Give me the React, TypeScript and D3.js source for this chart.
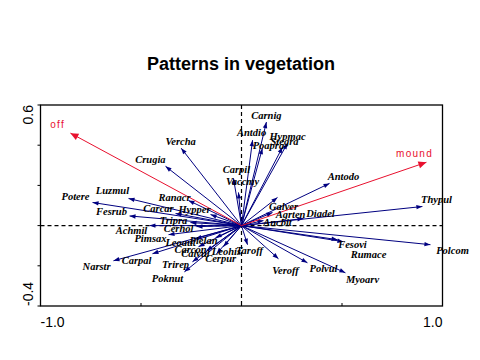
import React from "react";
import * as d3 from "d3";

// Species scores (biplot arrows)
const species = ["Vercha","Crugia","Luzmul","Potere","Fesrub","Ranacr","Carcar","Hypper","Tripra","Cerhol","Achmil","Pimsax","Narstr","Carpal","Leoaut","Plelan","Carcon","Calvul","Leohis","Cerpur","Trirep","Poknut","Taroff","Veroff","Polvul","Myoarv","Fesovi","Rumace","Polcom","Thypul","Diadel","Galver","Agrten","Ancbit","Antodo","Carpil","Vaccmy","Carnig","Antdio","Poapra","Hypmac","Stegra"];
const axis1 = [-0.30,-0.378,-0.562,-0.741,-0.557,-0.264,-0.328,-0.154,-0.254,-0.224,-0.458,-0.363,-0.637,-0.443,-0.229,-0.129,-0.214,-0.174,-0.09,-0.124,-0.244,-0.284,0.03,0.184,0.328,0.517,0.478,0.507,0.94,0.90,0.308,0.179,0.154,0.109,0.438,-0.04,-0.015,0.124,0.055,0.104,0.229,0.204];
const axis2 = [0.385,0.295,0.135,0.115,0.048,0.125,0.06,0.055,0.015,-0.005,0.0,-0.045,-0.175,-0.14,-0.065,-0.06,-0.105,-0.125,-0.105,-0.14,-0.18,-0.23,-0.095,-0.165,-0.185,-0.235,-0.07,-0.08,-0.095,0.095,0.035,0.14,0.065,0.025,0.21,0.235,0.165,0.515,0.425,0.385,0.41,0.39];
// Label anchor positions in data units
const labelX = [-0.303,-0.453,-0.642,-0.826,-0.647,-0.333,-0.413,-0.234,-0.338,-0.313,-0.547,-0.453,-0.721,-0.522,-0.303,-0.189,-0.254,-0.229,-0.075,-0.104,-0.328,-0.368,0.04,0.219,0.408,0.602,0.552,0.632,1.05,0.97,0.393,0.209,0.244,0.179,0.507,-0.025,0.005,0.124,0.05,0.134,0.229,0.214];
const labelY = [0.42,0.33,0.175,0.145,0.07,0.14,0.085,0.08,0.025,-0.015,-0.025,-0.065,-0.205,-0.175,-0.085,-0.075,-0.12,-0.14,-0.13,-0.165,-0.195,-0.265,-0.125,-0.225,-0.215,-0.27,-0.095,-0.145,-0.125,0.13,0.06,0.095,0.055,0.015,0.245,0.28,0.22,0.55,0.465,0.40,0.445,0.42];

// Environmental variables
const envNames = ["off","mound"];
const envX = [-0.851, 0.92];
const envY = [0.46, 0.315];
const envLabelX = [-0.915, 0.861];
const envLabelY = [0.505, 0.36];

const xTicks = [-1, -0.5, 0, 0.5, 1];
const yTicks = [-0.4, -0.2, 0, 0.2, 0.4, 0.6];

const W = 480, H = 360;

function head(x0: number, y0: number, x1: number, y1: number, len: number, hw: number) {
  const dx = x1 - x0, dy = y1 - y0;
  const L = Math.hypot(dx, dy) || 1;
  const ux = dx / L, uy = dy / L;
  const bx = x1 - ux * len, by = y1 - uy * len;
  return `${x1},${y1} ${bx - uy * hw},${by + ux * hw} ${bx + uy * hw},${by - ux * hw}`;
}

export default function App() {
  const x = d3.scaleLinear().domain([-1, 1]).range([40.5, 442.5]);
  const y = d3.scaleLinear().domain([-0.4, 0.6]).range([306, 105]);
  const ox = x(0), oy = y(0);
  const blue = "#000080";
  const red = "#e8102e";
  return (
    <svg width={W} height={H} style={{ position: "absolute", left: 0, top: 0, background: "#fff" }}>
      <rect x={0} y={0} width={W} height={H} fill="#fff" />
      <text x={241} y={70} textAnchor="middle" fontFamily="Liberation Sans, Arial, sans-serif" fontWeight="bold" fontSize={18}>Patterns in vegetation</text>
      {/* frame */}
      <rect x={x(-1)} y={y(0.6)} width={x(1) - x(-1)} height={y(-0.4) - y(0.6)} fill="none" stroke="#000" strokeWidth={1.3} />
      {/* zero lines */}
      <line x1={ox} x2={ox} y1={y(0.6)} y2={y(-0.4)} stroke="#000" strokeDasharray="4,3" strokeWidth={1.2} />
      <line x1={x(-1)} x2={x(1)} y1={oy} y2={oy} stroke="#000" strokeDasharray="4,3" strokeWidth={1.2} />
      {/* ticks */}
      {xTicks.map((t, i) => (
        <line key={"xt" + i} x1={x(t)} x2={x(t)} y1={y(-0.4)} y2={y(-0.4) - 3} stroke="#000" />
      ))}
      {yTicks.map((t, i) => (
        <line key={"yt" + i} x1={x(-1) - 3} x2={x(-1)} y1={y(t)} y2={y(t)} stroke="#000" />
      ))}
      <text x={x(-1)} y={327} textAnchor="start" fontFamily="Liberation Sans, Arial, sans-serif" fontSize={14}>-1.0</text>
      <text x={x(1)} y={327} textAnchor="end" fontFamily="Liberation Sans, Arial, sans-serif" fontSize={14}>1.0</text>
      <text transform={`translate(33,${y(0.6)}) rotate(-90)`} textAnchor="end" fontFamily="Liberation Sans, Arial, sans-serif" fontSize={14}>0.6</text>
      <text transform={`translate(33,${y(-0.4)}) rotate(-90)`} textAnchor="start" fontFamily="Liberation Sans, Arial, sans-serif" fontSize={14}>-0.4</text>
      {/* species arrows */}
      {species.map((s, i) => {
        const tx = x(axis1[i]), ty = y(axis2[i]);
        return (
          <g key={s}>
            <line x1={ox} y1={oy} x2={tx} y2={ty} stroke={blue} strokeWidth={1} />
            <polygon points={head(ox, oy, tx, ty, 6, 2.2)} fill={blue} />
          </g>
        );
      })}
      {/* env arrows */}
      {envNames.map((s, i) => {
        const tx = x(envX[i]), ty = y(envY[i]);
        return (
          <g key={s}>
            <line x1={ox} y1={oy} x2={tx} y2={ty} stroke={red} strokeWidth={1} />
            <polygon points={head(ox, oy, tx, ty, 8, 3.5)} fill={red} />
          </g>
        );
      })}
      {species.map((s, i) => (
        <text key={"l" + s} x={x(labelX[i])} y={y(labelY[i])} textAnchor="middle" dominantBaseline="central"
          fontFamily="Liberation Serif, Times New Roman, serif" fontStyle="italic" fontWeight="bold" fontSize={10.5} fill="#000">{s}</text>
      ))}
      {envNames.map((s, i) => (
        <text key={"e" + s} x={x(envLabelX[i])} y={y(envLabelY[i])} textAnchor="middle" dominantBaseline="central"
          fontFamily="Liberation Sans, Arial, sans-serif" fontSize={10} letterSpacing={1.3} fill={red}>{s}</text>
      ))}
    </svg>
  );
}
